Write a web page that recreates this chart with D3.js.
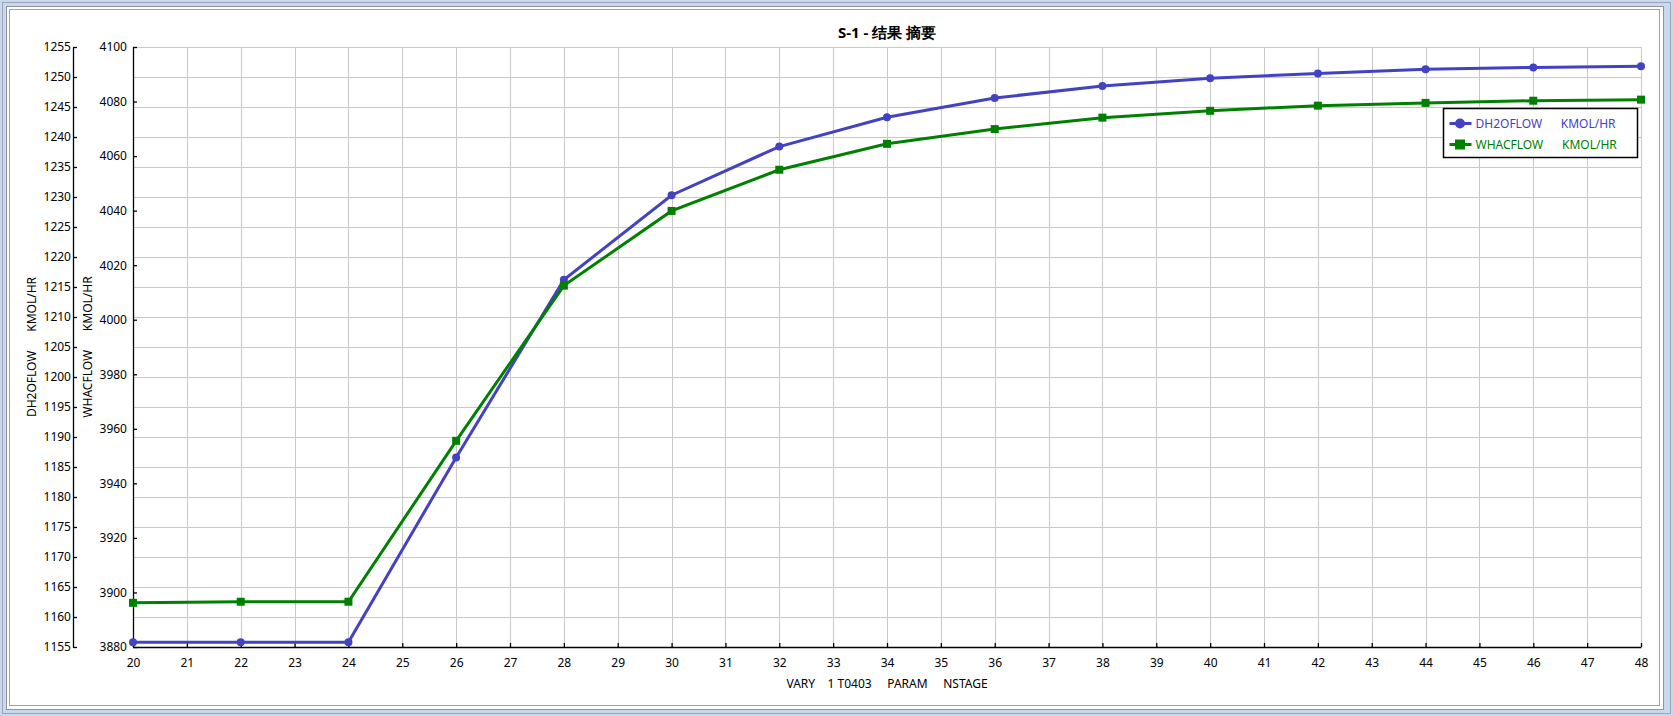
<!DOCTYPE html>
<html>
<head>
<meta charset="utf-8">
<script src="https://cdn.jsdelivr.net/npm/d3@7"></script>
<style>
body { margin: 0; background: #c9d8ec; }
text { font-family: "Noto Sans", "DejaVu Sans", sans-serif; }
</style>
</head>
<body>
<script>
const width = 1673
const height = 716
const margin = { top: 47, right: 32, bottom: 69, left: 133 }

// NSTAGE values and the two result series
const stages = [20, 22, 24, 26, 28, 30, 32, 34, 36, 38, 40, 42, 44, 46, 48]
const dh2oflow = [1155.8, 1155.8, 1155.8, 1186.6, 1216.2, 1230.3, 1238.4, 1243.3, 1246.5, 1248.5, 1249.8, 1250.6, 1251.3, 1251.6, 1251.8]
const whacflow = [3896.2, 3896.6, 3896.6, 3955.6, 4012.5, 4039.9, 4055.0, 4064.5, 4069.9, 4074.1, 4076.6, 4078.5, 4079.5, 4080.3, 4080.7]

const xTicks = d3.range(20, 49, 1)
const leftTicks = d3.range(1155, 1256, 5)
const rightTicks = d3.range(3880, 4101, 20)

const seriesNames = ['DH2OFLOW      KMOL/HR', 'WHACFLOW      KMOL/HR']
const xLabel = 'VARY    1 T0403     PARAM     NSTAGE'
const title = 'S-1 - 结果 摘要'

const blue = '#4242c2'
const green = '#008000'

const svg = d3.select('body')
	.append('svg')
	.attr('width', width)
	.attr('height', height)

// window frame
svg.append('rect').attr('x', 2.5).attr('y', 2.5).attr('width', 1668).attr('height', 711)
	.attr('fill', '#c9d8ec').attr('stroke', '#9aa6b8')
svg.append('rect').attr('x', 6.5).attr('y', 6.5).attr('width', 1657).attr('height', 703)
	.attr('fill', '#fff').attr('stroke', '#8c96a6')
svg.append('rect').attr('x', 9.5).attr('y', 9.5).attr('width', 1650).attr('height', 696)
	.attr('fill', '#fff').attr('stroke', '#9ba3ae')

const x0 = margin.left
const x1 = width - margin.right
const y0 = height - margin.bottom
const y1 = margin.top

const xScale = d3.scaleLinear().domain([20, 48]).range([x0, x1])
const yLeft = d3.scaleLinear().domain([1155, 1255]).range([y0, y1])
const yRight = d3.scaleLinear().domain([3880, 4100]).range([y0, y1])

// grid
const grid = svg.append('g').attr('stroke', '#c8c8c8').attr('stroke-width', 1)
grid.selectAll('.v').data(xTicks).enter().append('line')
	.attr('x1', d => Math.round(xScale(d)) + 0.5).attr('x2', d => Math.round(xScale(d)) + 0.5)
	.attr('y1', y1).attr('y2', y0)
grid.selectAll('.h').data(leftTicks).enter().append('line')
	.attr('x1', x0).attr('x2', x1)
	.attr('y1', d => Math.round(yLeft(d)) + 0.5).attr('y2', d => Math.round(yLeft(d)) + 0.5)

const styleAxis = g => {
	g.selectAll('text').attr('font-size', 12).attr('fill', '#000')
		.attr('font-family', '"Noto Sans", sans-serif')
	g.selectAll('path, line').attr('stroke', '#000').attr('stroke-width', 1.3)
}

svg.append('g')
	.attr('transform', `translate(0,${y0})`)
	.call(d3.axisBottom(xScale).tickValues(xTicks).tickFormat(d3.format('d'))
		.tickSizeInner(-4).tickSizeOuter(0).tickPadding(11))
	.call(styleAxis)

svg.append('g')
	.attr('transform', `translate(73,0)`)
	.call(d3.axisLeft(yLeft).tickValues(leftTicks).tickFormat(d3.format('d'))
		.tickSizeInner(-4).tickSizeOuter(0).tickPadding(2))
	.call(styleAxis)

svg.append('g')
	.attr('transform', `translate(${x0},0)`)
	.call(d3.axisLeft(yRight).tickValues(rightTicks).tickFormat(d3.format('d'))
		.tickSizeInner(-4).tickSizeOuter(0).tickPadding(6))
	.call(styleAxis)

// axis titles
svg.append('text')
	.attr('transform', `translate(36,${(y0 + y1) / 2}) rotate(-90)`)
	.attr('text-anchor', 'middle').attr('font-size', 12)
	.style('white-space', 'pre')
	.text(seriesNames[0])

svg.append('text')
	.attr('transform', `translate(92,${(y0 + y1) / 2}) rotate(-90)`)
	.attr('text-anchor', 'middle').attr('font-size', 12)
	.style('white-space', 'pre')
	.text(seriesNames[1])

svg.append('text')
	.attr('x', (x0 + x1) / 2).attr('y', 688)
	.attr('text-anchor', 'middle').attr('font-size', 12)
	.style('white-space', 'pre')
	.text(xLabel)

svg.append('text')
	.attr('x', (x0 + x1) / 2).attr('y', 38)
	.attr('text-anchor', 'middle').attr('font-size', 15).attr('font-weight', 'bold')
	.attr('font-family', '"Noto Sans CJK SC", "Noto Sans", sans-serif')
	.text(title)

// series
const blueLine = d3.line().x((d, i) => xScale(stages[i])).y(d => yLeft(d))
const greenLine = d3.line().x((d, i) => xScale(stages[i])).y(d => yRight(d))

svg.append('path').attr('d', blueLine(dh2oflow))
	.attr('fill', 'none').attr('stroke', blue).attr('stroke-width', 3)
svg.selectAll('.dot').data(dh2oflow).enter().append('circle')
	.attr('cx', (d, i) => xScale(stages[i])).attr('cy', d => yLeft(d))
	.attr('r', 4).attr('fill', blue)

svg.append('path').attr('d', greenLine(whacflow))
	.attr('fill', 'none').attr('stroke', green).attr('stroke-width', 3)
svg.selectAll('.sq').data(whacflow).enter().append('rect')
	.attr('x', (d, i) => xScale(stages[i]) - 4).attr('y', d => yRight(d) - 4)
	.attr('width', 8).attr('height', 8).attr('fill', green)

// legend
const legend = svg.append('g').attr('transform', 'translate(1443.5,108.5)')
legend.append('rect').attr('width', 194).attr('height', 49)
	.attr('fill', '#fff').attr('stroke', '#000').attr('stroke-width', 1.5)

const items = legend.selectAll('.item').data(seriesNames).enter().append('g')
	.attr('transform', (d, i) => `translate(0,${15 + i * 21})`)
items.append('line').attr('x1', 6).attr('x2', 28)
	.attr('stroke', (d, i) => i ? green : blue).attr('stroke-width', 3)
items.filter((d, i) => i === 0).append('circle').attr('cx', 16.5).attr('r', 5).attr('fill', blue)
items.filter((d, i) => i === 1).append('rect').attr('x', 11.5).attr('y', -5)
	.attr('width', 10).attr('height', 10).attr('fill', green)
items.append('text').attr('x', 32).attr('dy', '0.35em').attr('font-size', 12)
	.style('white-space', 'pre')
	.attr('fill', (d, i) => i ? green : blue)
	.text(d => d)
</script>
</body>
</html>
